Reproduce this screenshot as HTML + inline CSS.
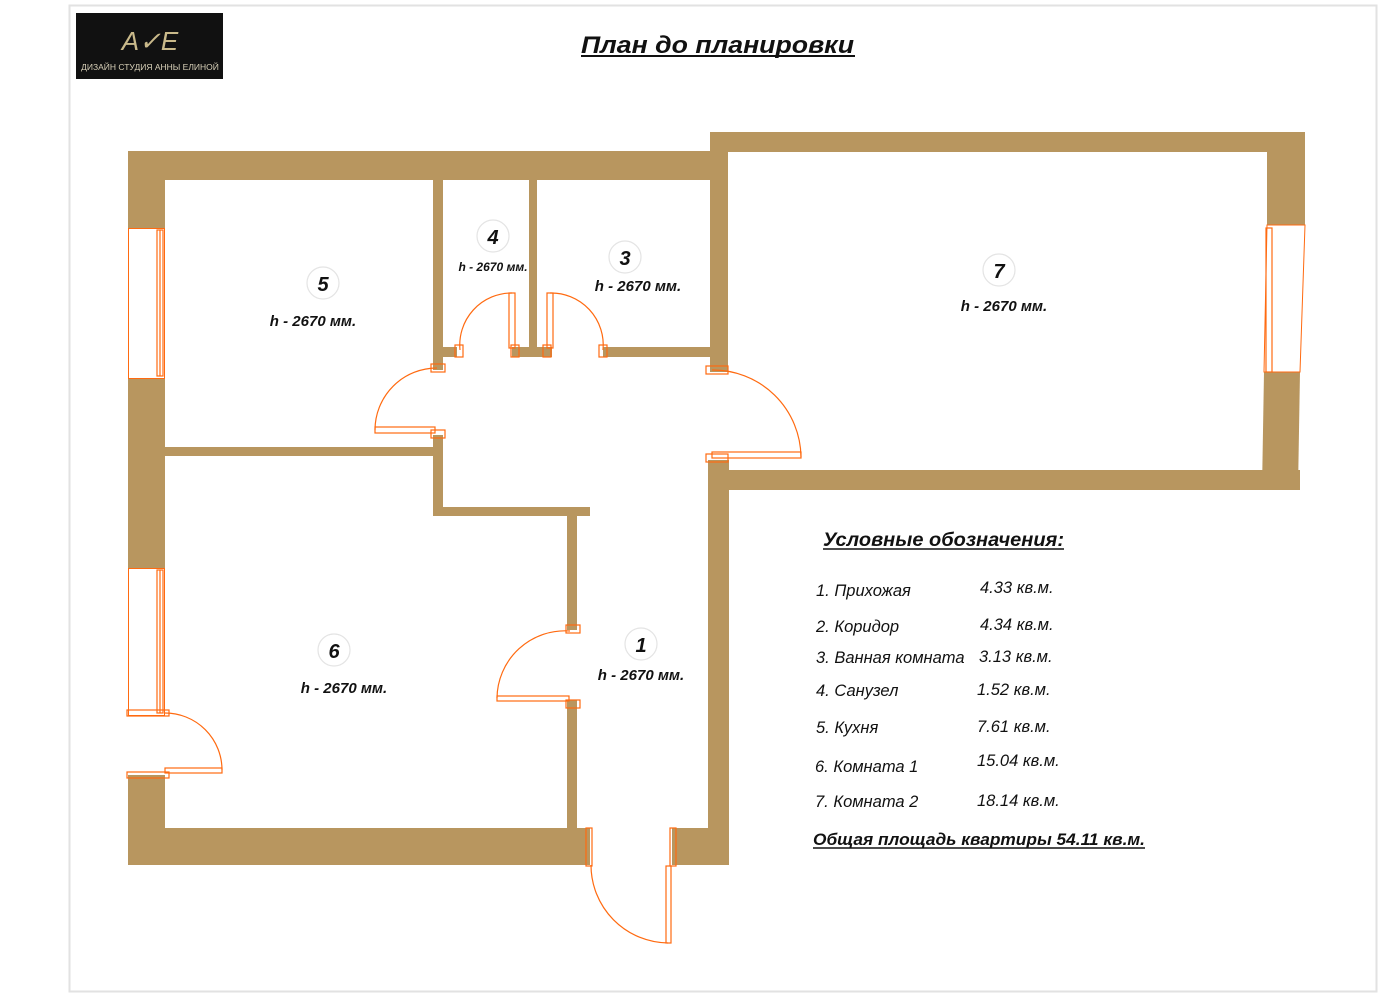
<!DOCTYPE html>
<html><head><meta charset="utf-8"><style>
body{margin:0;background:#fff;width:1382px;height:1000px;overflow:hidden}
svg{display:block}
text{font-family:"Liberation Sans",sans-serif}
</style></head><body>
<svg width="1382" height="1000" viewBox="0 0 1382 1000">
<rect x="69.5" y="5.5" width="1307" height="986" fill="#fff" stroke="#e2e2e2" stroke-width="2"/>
<!-- logo -->
<rect x="76" y="13" width="147" height="66" fill="#111"/>
<text x="150" y="50" font-family="Liberation Serif,serif" font-style="italic" font-size="26" fill="#c9b98a" text-anchor="middle">A✓E</text>
<text x="150" y="70" font-size="8.5" fill="#d8d0b8" text-anchor="middle">ДИЗАЙН СТУДИЯ АННЫ ЕЛИНОЙ</text>
<!-- title -->
<text x="581" y="53" font-size="24" font-weight="bold" font-style="italic" fill="#111" textLength="273" lengthAdjust="spacingAndGlyphs">План до планировки</text>
<line x1="581" y1="56" x2="855" y2="56" stroke="#111" stroke-width="2"/>
<g fill="#b8965f">
<rect x="128" y="151" width="600" height="29"/>
<rect x="128" y="151" width="37" height="77"/>
<rect x="128" y="378" width="37" height="190"/>
<rect x="128" y="775" width="37" height="90"/>
<rect x="128" y="828" width="462" height="37"/>
<rect x="672" y="828" width="56" height="37"/>
<rect x="708" y="460" width="21" height="405"/>
<rect x="710" y="132" width="595" height="20"/>
<rect x="710" y="132" width="18" height="240"/>
<polygon points="1267,132 1305,132 1305,225 1267,225"/>
<polygon points="1264,372 1300,372 1298,490 1262,490"/>
<rect x="710" y="470" width="590" height="20"/>
<rect x="433" y="180" width="10" height="190"/>
<rect x="529" y="180" width="8" height="175"/>
<rect x="443" y="347" width="14" height="10"/>
<rect x="512" y="347" width="40" height="10"/>
<rect x="603" y="347" width="107" height="10"/>
<rect x="165" y="447" width="278" height="9"/>
<rect x="433" y="435" width="10" height="80"/>
<rect x="433" y="507" width="157" height="9"/>
<rect x="567" y="515" width="10" height="115"/>
<rect x="567" y="700" width="10" height="128"/>
</g>
<g fill="none" stroke="#ff6a10" stroke-width="1.2">
<rect x="128.5" y="228.5" width="36" height="150" stroke-width="1"/>
<rect x="157" y="230" width="6" height="146"/>
<line x1="160" y1="230" x2="160" y2="376"/>
<rect x="128.5" y="568.5" width="36" height="147" stroke-width="1"/>
<rect x="157" y="570" width="6" height="143"/>
<line x1="160" y1="570" x2="160" y2="713"/>
<polygon points="1267,225 1305,225 1300,372 1264,372" stroke-width="1"/>
<rect x="1266" y="228" width="6" height="144"/>
<path d="M375,430 A62,62 0 0 1 437,368"/>
<rect x="375" y="427" width="60" height="6"/>
<rect x="431" y="364" width="14" height="8"/><rect x="431" y="430" width="14" height="8"/>
<path d="M460,350 A52,52 0 0 1 512,293"/>
<rect x="509" y="293" width="6" height="55"/>
<rect x="455" y="345" width="8" height="12"/><rect x="511" y="345" width="8" height="12"/>
<path d="M603,350 A52,52 0 0 0 550,293"/>
<rect x="547" y="293" width="6" height="55"/>
<rect x="543" y="345" width="8" height="12"/><rect x="599" y="345" width="8" height="12"/>
<path d="M712,370 A88,88 0 0 1 801,457"/>
<rect x="712" y="452" width="89" height="6"/>
<rect x="706" y="366" width="22" height="8"/><rect x="706" y="454" width="22" height="8"/>
<path d="M570,631 A68,68 0 0 0 497,698"/>
<rect x="497" y="696" width="72" height="5"/>
<rect x="566" y="625" width="14" height="8"/><rect x="566" y="700" width="14" height="8"/>
<path d="M165,713 A57,57 0 0 1 222,770"/>
<rect x="165" y="768" width="57" height="5"/>
<rect x="127" y="710" width="42" height="6"/><rect x="127" y="772" width="42" height="6"/>
<path d="M591,865 A78,78 0 0 0 668,943"/>
<rect x="666" y="866" width="5" height="77"/>
<rect x="586" y="828" width="6" height="38"/><rect x="670" y="828" width="6" height="38"/>
</g>
<g fill="#fff" stroke="#e4e4e4" stroke-width="1.2">
<circle cx="323" cy="283" r="16"/><circle cx="493" cy="236" r="16"/><circle cx="625" cy="257" r="16"/>
<circle cx="999" cy="270" r="16"/><circle cx="334" cy="650" r="16"/><circle cx="641" cy="644" r="16"/>
</g>
<g font-weight="bold" font-style="italic" fill="#111" text-anchor="middle">
<text x="323" y="291" font-size="20">5</text><text x="493" y="244" font-size="20">4</text>
<text x="625" y="265" font-size="20">3</text><text x="999" y="278" font-size="20">7</text>
<text x="334" y="658" font-size="20">6</text><text x="641" y="652" font-size="20">1</text>
<text x="313" y="326" font-size="15">h - 2670 мм.</text>
<text x="493" y="271" font-size="12">h - 2670 мм.</text>
<text x="638" y="291" font-size="15">h - 2670 мм.</text>
<text x="1004" y="311" font-size="15">h - 2670 мм.</text>
<text x="344" y="693" font-size="15">h - 2670 мм.</text>
<text x="641" y="680" font-size="15">h - 2670 мм.</text>
</g>
<text x="823" y="546" font-size="19" font-weight="bold" font-style="italic" fill="#111" textLength="241" lengthAdjust="spacingAndGlyphs">Условные обозначения:</text>
<line x1="823" y1="549" x2="1064" y2="549" stroke="#111" stroke-width="1.6"/>
<g font-size="16.5" font-style="italic" fill="#111">
<text x="816" y="596">1. Прихожая</text><text x="980" y="593">4.33 кв.м.</text>
<text x="816" y="632">2. Коридор</text><text x="980" y="630">4.34 кв.м.</text>
<text x="816" y="663">3. Ванная комната</text><text x="979" y="662">3.13 кв.м.</text>
<text x="816" y="696">4. Санузел</text><text x="977" y="695">1.52 кв.м.</text>
<text x="816" y="733">5. Кухня</text><text x="977" y="732">7.61 кв.м.</text>
<text x="815" y="772">6. Комната 1</text><text x="977" y="766">15.04 кв.м.</text>
<text x="815" y="807">7. Комната 2</text><text x="977" y="806">18.14 кв.м.</text>
</g>
<text x="813" y="845" font-size="16.5" font-weight="bold" font-style="italic" fill="#111" textLength="332" lengthAdjust="spacingAndGlyphs">Общая площадь квартиры 54.11 кв.м.</text>
<line x1="813" y1="848" x2="1145" y2="848" stroke="#111" stroke-width="1.4"/>
</svg>
</body></html>
